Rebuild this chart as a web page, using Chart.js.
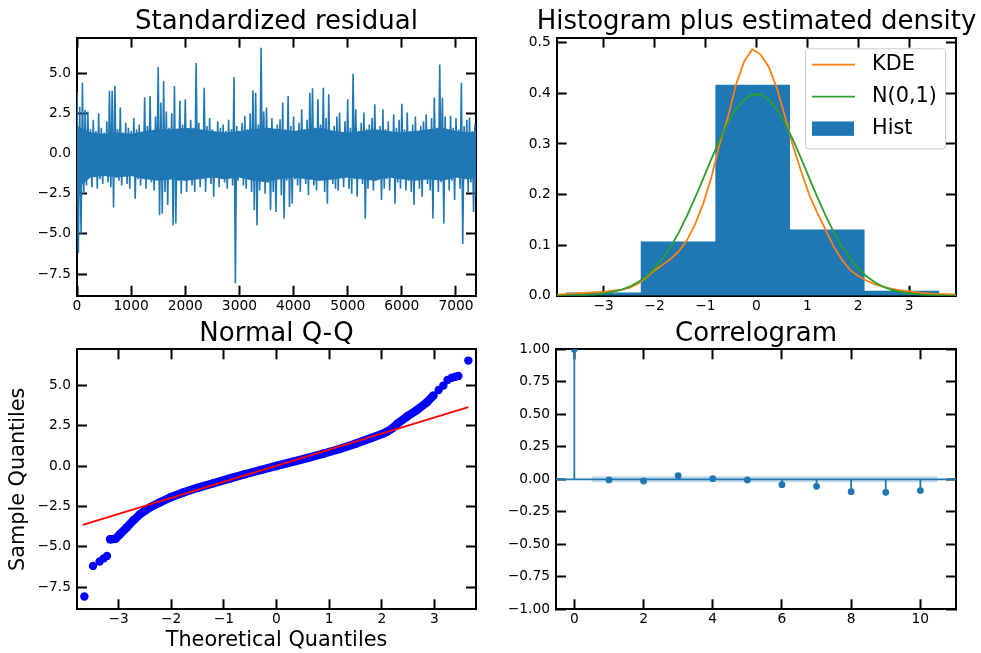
<!DOCTYPE html>
<html>
<head>
<meta charset="utf-8">
<title>Residual diagnostics</title>
<script src="https://cdn.jsdelivr.net/npm/chart.js@4"></script>
<style>
  html, body { margin: 0; padding: 0; background: #fff; overflow: hidden; }
  body { width: 981px; height: 653px; position: relative; }
  canvas { position: absolute; }
</style>
</head>
<body>
<canvas id="resid" width="553" height="320" style="left:0px;top:0px"></canvas>
<canvas id="hist" width="461" height="320" style="left:526px;top:0px"></canvas>
<canvas id="qq" width="553" height="343" style="left:0px;top:310px"></canvas>
<canvas id="acf" width="504" height="343" style="left:504px;top:310px"></canvas>

<script>
// ---- values ----

// standardized residual: max / min of each 50-sample window
const residStep = 50;
const residUpper = [
  3.8, 2.9, 4.4, 2.7, 2.6, 1.5, 2.1, 1.4, 2.5, 1.6,
  1.3, 2.0, 3.9, 3.9, 4.2, 1.5, 2.85, 1.3, 1.9, 1.6,
  1.4, 2.2, 1.5, 1.8, 1.3, 3.5, 1.7, 3.57, 1.4, 2.3,
  5.37, 3.16, 4.5, 2.6, 1.6, 2.5, 4.19, 1.5, 3.27, 1.8,
  3.37, 1.4, 2.1, 1.6, 5.63, 1.9, 1.3, 4.09, 1.7, 2.2,
  1.5, 1.3, 2.0, 1.6, 1.8, 1.4, 2.1, 1.5, 4.75, 1.7,
  1.3, 1.9, 2.34, 1.5, 2.5, 3.92, 3.78, 1.8, 6.57, 2.6,
  2.85, 1.6, 2.2, 1.4, 1.8, 2.13, 3.16, 1.5, 3.57, 1.7,
  2.3, 1.4, 1.9, 2.75, 1.5, 2.1, 3.78, 4.05, 1.6, 3.37,
  1.8, 4.09, 2.2, 3.68, 1.4, 1.7, 2.3, 2.54, 1.3, 2.0,
  3.37, 1.6, 4.96, 2.75, 1.4, 1.9, 2.54, 1.5, 1.8, 2.2,
  3.06, 1.4, 1.7, 2.75, 1.5, 2.0, 1.3, 2.44, 1.6, 2.1,
  3.09, 1.5, 2.54, 1.4, 1.8, 2.3, 1.3, 1.7, 2.0, 2.44,
  1.5, 2.2, 3.47, 1.6, 5.53, 3.47, 2.3, 1.4, 2.34, 1.6,
  2.2, 1.5, 4.40, 1.7, 2.1, 2.23, 1.4, 1.8
];
const residLower = [
  -6.2, -4.98, -2.5, -2.0, -1.5, -2.1, -1.4, -2.2, -1.6, -1.9,
  -1.3, -1.8, -2.1, -3.37, -1.5, -1.7, -2.0, -1.3, -1.9, -2.2,
  -1.4, -2.82, -1.6, -2.0, -1.3, -2.2, -1.5, -1.8, -2.3, -1.4,
  -3.85, -3.74, -2.4, -3.2, -1.6, -4.47, -4.36, -1.7, -2.5, -1.4,
  -2.4, -1.5, -2.0, -2.4, -1.3, -2.1, -1.6, -2.4, -1.5, -1.9,
  -2.7, -1.4, -2.1, -1.6, -1.8, -2.2, -1.3, -2.0, -8.08, -1.7,
  -1.5, -2.0, -2.2, -1.4, -2.4, -3.54, -4.47, -2.3, -1.6, -2.5,
  -1.8, -3.54, -2.4, -3.64, -1.5, -2.6, -4.05, -1.7, -3.33, -3.13,
  -1.6, -2.0, -2.4, -1.4, -1.9, -2.6, -1.5, -2.0, -2.3, -1.7,
  -1.4, -2.4, -3.13, -1.6, -1.9, -2.2, -2.3, -1.5, -2.1, -1.3,
  -2.2, -2.5, -1.6, -2.7, -1.4, -1.9, -4.05, -2.2, -1.5, -2.3,
  -1.7, -1.4, -2.9, -2.2, -1.6, -2.3, -1.5, -3.13, -1.8, -2.2,
  -1.4, -2.3, -1.7, -2.4, -3.2, -1.5, -2.2, -2.7, -1.6, -1.9,
  -2.3, -4.05, -1.5, -2.4, -1.8, -4.36, -1.4, -2.3, -1.7, -2.9,
  -1.5, -2.2, -5.64, -1.6, -2.4, -1.8, -3.64, -2.7
];
// solid core of the trace (where every pixel column is covered), every 250 samples
const coreStep = 250;
const coreUpper = [
  1.7, 1.3, 1.2, 1.3, 1.2, 1.4, 1.5, 1.5, 1.6, 1.5,
  1.4, 1.3, 1.4, 1.5, 1.6, 1.5, 1.4, 1.5, 1.6, 1.4,
  1.3, 1.4, 1.5, 1.4, 1.3, 1.4, 1.5, 1.6, 1.4, 1.3, 1.4
];
const coreLower = [
  -2.2, -1.5, -1.4, -1.5, -1.4, -1.6, -1.7, -1.6, -1.7, -1.6,
  -1.5, -1.6, -1.5, -1.7, -1.8, -1.6, -1.5, -1.6, -1.7, -1.6,
  -1.5, -1.6, -1.7, -1.5, -1.6, -1.7, -1.6, -1.7, -1.5, -1.6, -1.5
];

// histogram (10 bins, density)
const histEdges = [-8.13, -6.665, -5.2, -3.735, -2.27, -0.805, 0.66, 2.125, 3.59, 5.055, 6.52];
const histDensity = [0.0001, 0.0002, 0.0009, 0.0066, 0.107, 0.417, 0.131, 0.010, 0.0013, 0.0002];

// KDE and N(0,1) curves
const densityGrid = [
  -3.92, -3.76, -3.6, -3.44, -3.28, -3.12, -2.96, -2.8, -2.64, -2.48,
  -2.32, -2.16, -2.0, -1.84, -1.68, -1.52, -1.36, -1.2, -1.04, -0.88,
  -0.72, -0.56, -0.4, -0.24, -0.08, 0.08, 0.24, 0.4, 0.56, 0.72,
  0.88, 1.04, 1.2, 1.36, 1.52, 1.68, 1.84, 2.0, 2.16, 2.32,
  2.48, 2.64, 2.8, 2.96, 3.12, 3.28, 3.44, 3.6, 3.76, 3.92
];
const kdeDensity = [
  0.002, 0.003, 0.004, 0.005, 0.006, 0.007, 0.008, 0.010, 0.012, 0.016,
  0.024, 0.036, 0.050, 0.061, 0.073, 0.088, 0.110, 0.142, 0.183, 0.235,
  0.300, 0.352, 0.417, 0.463, 0.487, 0.477, 0.453, 0.411, 0.355, 0.296,
  0.246, 0.199, 0.163, 0.130, 0.097, 0.071, 0.051, 0.039, 0.030, 0.023,
  0.018, 0.014, 0.011, 0.009, 0.007, 0.005, 0.004, 0.003, 0.003, 0.002
];
const normalDensity = [
  0.0002, 0.0003, 0.0006, 0.0011, 0.0018, 0.0031, 0.0050, 0.0079, 0.0122, 0.0183,
  0.0270, 0.0386, 0.0540, 0.0734, 0.0973, 0.1257, 0.1582, 0.1942, 0.2323, 0.2709,
  0.3079, 0.3410, 0.3683, 0.3876, 0.3977, 0.3977, 0.3876, 0.3683, 0.3410, 0.3079,
  0.2709, 0.2323, 0.1942, 0.1582, 0.1257, 0.0973, 0.0734, 0.0540, 0.0386, 0.0270,
  0.0183, 0.0122, 0.0079, 0.0050, 0.0031, 0.0018, 0.0011, 0.0006, 0.0003, 0.0002
];

// normal Q-Q
const qqTheoretical = [
  -3.16, -3.06, -2.97, -2.84, -2.71, -2.59, -2.40, -2.21, -2.02, -1.77,
  -1.50, -1.20, -0.90, -0.60, -0.30, 0.00, 0.30, 0.60, 0.90, 1.20,
  1.50, 1.80, 2.00, 2.10, 2.20, 2.29, 2.48, 2.67, 2.86, 2.98
];
const qqSample = [
  -4.53, -4.50, -4.20, -3.78, -3.33, -2.96, -2.55, -2.24, -1.94, -1.63,
  -1.34, -1.05, -0.77, -0.50, -0.23, 0.02, 0.27, 0.52, 0.79, 1.07,
  1.39, 1.75, 1.99, 2.14, 2.35, 2.62, 3.08, 3.49, 3.97, 4.38
];
const qqTailTheoretical = [-3.65, -3.486, -3.36, -3.28, -3.22, 3.08, 3.17, 3.25, 3.33, 3.40, 3.455, 3.645];
const qqTailSample = [-8.08, -6.18, -5.91, -5.71, -5.56, 4.73, 5.0, 5.35, 5.49, 5.55, 5.60, 6.55];
const qqLineX = [-3.68, 3.645];
const qqLineY = [-3.64, 3.66];

// correlogram
const acfLags = [0, 1, 2, 3, 4, 5, 6, 7, 8, 9, 10];
const acfValues = [1.0, -0.005, -0.013, 0.028, 0.005, -0.005, -0.041, -0.054, -0.095, -0.100, -0.087];
const confX = [0.5, 10.5];
const confHalf = [0.023, 0.023];

// axis limits and tick positions
const residXLim = [0, 7370], residYLim = [-8.85, 7.2];
const residXTicks = [0, 1000, 2000, 3000, 4000, 5000, 6000, 7000];
const residYTicks = [-7.5, -5, -2.5, 0, 2.5, 5];
const histXLim = [-3.92, 3.92], histYLim = [0, 0.51];
const histXTicks = [-3, -2, -1, 0, 1, 2, 3];
const histYTicks = [0, 0.1, 0.2, 0.3, 0.4, 0.5];
const qqXLim = [-3.79, 3.79], qqYLim = [-8.87, 7.25];
const qqXTicks = [-3, -2, -1, 0, 1, 2, 3];
const qqYTicks = [-7.5, -5, -2.5, 0, 2.5, 5];
const acfXLim = [-0.53, 11.03], acfYLim = [-1, 1];
const acfXTicks = [0, 2, 4, 6, 8, 10];
const acfYTicks = [-1, -0.75, -0.5, -0.25, 0, 0.25, 0.5, 0.75, 1];

// ---- drawing ----
const C0 = '#1f77b4';
const INK = '#000000';
Chart.defaults.font.family = '"DejaVu Sans", sans-serif';
Chart.defaults.color = INK;

function fmt(v, d) {
  const s = Number(v).toFixed(d);
  return s.charAt(0) === '-' ? '\u2212' + s.slice(1) : s;
}

// matplotlib-like axis: inward ticks, black spine
function axis(position, lim, ticks, dec, size, labels, title) {
  const horiz = position === 'top' || position === 'bottom';
  const a = {
    type: 'linear',
    axis: horiz ? 'x' : 'y',
    position: position,
    min: lim[0],
    max: lim[1],
    z: 1,
    grid: { drawOnChartArea: false, drawTicks: true, tickLength: -10, tickWidth: 2, tickColor: INK },
    border: { display: true, color: INK, width: 2 },
    ticks: {
      display: labels,
      autoSkip: false,
      maxRotation: 0,
      color: INK,
      font: { size: 13.8 },
      padding: horiz ? 12.2 : 16,
      callback: v => fmt(v, dec)
    },
    afterBuildTicks(scale) {
      scale.ticks = ticks.map(v => ({ value: v }));
    },
    afterFit(scale) {
      if (horiz) scale.height = size; else scale.width = size;
    }
  };
  if (title) {
    a.title = { display: true, text: title.text, color: INK, font: { size: 20.8 }, padding: title.padding };
  }
  return a;
}

function baseOptions(titleText, padTop, scales) {
  return {
    responsive: false,
    animation: false,
    events: [],
    layout: { autoPadding: false, padding: { top: padTop, left: 0, right: 0, bottom: 0 } },
    plugins: {
      legend: { display: false },
      tooltip: { enabled: false },
      title: {
        display: true, text: titleText, color: INK, padding: 0,
        font: { size: 26, weight: 'normal', lineHeight: 1.15 }
      }
    },
    scales: scales
  };
}

// panel 1: standardized residual
const residPoints = [];
residUpper.forEach((u, i) => {
  residPoints.push({ x: i * residStep, y: u });
  residPoints.push({ x: i * residStep + residStep / 2, y: residLower[i] });
});

new Chart(document.getElementById('resid'), {
  type: 'line',
  data: {
    datasets: [
      {
        order: 1,
        data: residPoints, borderColor: C0, borderWidth: 1.6,
        pointRadius: 0, tension: 0, fill: false
      },
      {
        order: 2, fill: '+1',
        data: coreUpper.map((v, i) => ({ x: i * coreStep, y: v })),
        backgroundColor: C0, borderColor: 'rgba(0,0,0,0)', borderWidth: 0, pointRadius: 0, tension: 0
      },
      {
        order: 3, fill: false,
        data: coreLower.map((v, i) => ({ x: i * coreStep, y: v })),
        borderColor: 'rgba(0,0,0,0)', borderWidth: 0, pointRadius: 0, tension: 0
      }
    ]
  },
  options: baseOptions('Standardized residual', 7.75, {
    x: axis('bottom', residXLim, residXTicks, 0, 23.5, true),
    x2: axis('top', residXLim, residXTicks, 0, 0, false),
    y: axis('left', residYLim, residYTicks, 1, 77, true),
    y2: axis('right', residYLim, residYTicks, 1, 77, false)
  })
});

// panel 2: histogram plus estimated density
const histPoints = histDensity.map((d, i) => ({ x: histEdges[i], y: d }));
histPoints.push({ x: histEdges[histEdges.length - 1], y: histDensity[histDensity.length - 1] });

function roundRect(ctx, x, y, w, h, r) {
  ctx.beginPath();
  ctx.moveTo(x + r, y);
  ctx.lineTo(x + w - r, y);
  ctx.arcTo(x + w, y, x + w, y + r, r);
  ctx.lineTo(x + w, y + h - r);
  ctx.arcTo(x + w, y + h, x + w - r, y + h, r);
  ctx.lineTo(x + r, y + h);
  ctx.arcTo(x, y + h, x, y + h - r, r);
  ctx.lineTo(x, y + r);
  ctx.arcTo(x, y, x + r, y, r);
  ctx.closePath();
}

// legend drawn inside the plot, upper right, like matplotlib
const innerLegend = {
  id: 'innerLegend',
  afterDatasetsDraw(chart) {
    const ctx = chart.ctx;
    const area = chart.chartArea;
    const w = 140, h = 100;
    const x0 = area.right - 11 - w, y0 = area.top + 10.6;
    ctx.save();
    roundRect(ctx, x0 + 0.5, y0 + 0.5, w, h, 3);
    ctx.fillStyle = 'rgba(255,255,255,0.8)';
    ctx.fill();
    ctx.lineWidth = 1;
    ctx.strokeStyle = '#cccccc';
    ctx.stroke();
    ctx.font = '20.8px "DejaVu Sans"';
    ctx.textBaseline = 'middle';
    chart.data.datasets.forEach((ds, i) => {
      const cy = y0 + 16.4 + i * 32;
      if (ds.fill) {
        ctx.fillStyle = ds.backgroundColor;
        ctx.fillRect(x0 + 7, cy - 7.2, 42, 14.4);
      } else {
        ctx.strokeStyle = ds.borderColor;
        ctx.lineWidth = ds.borderWidth;
        ctx.beginPath();
        ctx.moveTo(x0 + 7, cy);
        ctx.lineTo(x0 + 50, cy);
        ctx.stroke();
      }
      ctx.fillStyle = INK;
      ctx.fillText(ds.label, x0 + 67, cy);
    });
    ctx.restore();
  }
};

new Chart(document.getElementById('hist'), {
  type: 'line',
  data: {
    datasets: [
      {
        label: 'KDE', order: 2,
        data: densityGrid.map((x, i) => ({ x: x, y: kdeDensity[i] })),
        borderColor: '#ff7f0e', borderWidth: 1.8, pointRadius: 0, tension: 0, fill: false
      },
      {
        label: 'N(0,1)', order: 1,
        data: densityGrid.map((x, i) => ({ x: x, y: normalDensity[i] })),
        borderColor: '#2ca02c', borderWidth: 1.8, pointRadius: 0, tension: 0, fill: false
      },
      {
        label: 'Hist', order: 3,
        data: histPoints, stepped: true, fill: 'origin',
        backgroundColor: C0, borderColor: 'rgba(0,0,0,0)', borderWidth: 0, pointRadius: 0
      }
    ]
  },
  options: baseOptions('Histogram plus estimated density', 7.75, {
    x: axis('bottom', histXLim, histXTicks, 0, 23.5, true),
    x2: axis('top', histXLim, histXTicks, 0, 0, false),
    y: axis('left', histYLim, histYTicks, 1, 30.7, true),
    y2: axis('right', histYLim, histYTicks, 1, 31, false)
  }),
  plugins: [innerLegend]
});

// panel 3: normal Q-Q
new Chart(document.getElementById('qq'), {
  type: 'line',
  data: {
    datasets: [
      {
        order: 1,
        data: qqLineX.map((x, i) => ({ x: x, y: qqLineY[i] })),
        borderColor: '#ff0000', borderWidth: 1.8, pointRadius: 0, fill: false
      },
      {
        order: 2,
        data: qqTheoretical.map((x, i) => ({ x: x, y: qqSample[i] })),
        borderColor: '#0000ff', borderWidth: 8.4, borderCapStyle: 'round', borderJoinStyle: 'round',
        pointRadius: 4.2, pointBorderWidth: 0, pointBackgroundColor: '#0000ff', tension: 0, fill: false
      },
      {
        order: 3, showLine: false,
        data: qqTailTheoretical.map((x, i) => ({ x: x, y: qqTailSample[i] })),
        pointRadius: 4.2, pointBorderWidth: 0, pointBackgroundColor: '#0000ff'
      }
    ]
  },
  options: baseOptions('Normal Q-Q', 9.4, {
    x: axis('bottom', qqXLim, qqXTicks, 0, 43.7, true, { text: 'Theoretical Quantiles', padding: { top: 0, bottom: 0 } }),
    x2: axis('top', qqXLim, qqXTicks, 0, 0, false),
    y: axis('left', qqYLim, qqYTicks, 1, 77, true, { text: 'Sample Quantiles', padding: { top: 6.1, bottom: 0 } }),
    y2: axis('right', qqYLim, qqYTicks, 1, 77, false)
  })
});

// panel 4: correlogram
const stemPoints = [];
acfLags.forEach((lag, i) => {
  stemPoints.push({ x: lag, y: 0 }, { x: lag, y: acfValues[i] }, { x: lag, y: null });
});

new Chart(document.getElementById('acf'), {
  type: 'line',
  data: {
    datasets: [
      {
        order: 0, fill: '+1',
        data: confX.map((x, i) => ({ x: x, y: confHalf[i] })),
        backgroundColor: 'rgba(31,119,180,0.25)', borderColor: 'rgba(0,0,0,0)', borderWidth: 0, pointRadius: 0
      },
      {
        order: 0.5, fill: false,
        data: confX.map((x, i) => ({ x: x, y: -confHalf[i] })),
        borderColor: 'rgba(0,0,0,0)', borderWidth: 0, pointRadius: 0
      },
      {
        order: 1, showLine: false, clip: 0,
        data: acfLags.map((lag, i) => ({ x: lag, y: acfValues[i] })),
        pointRadius: 3.4, pointBorderWidth: 0, pointBackgroundColor: C0
      },
      {
        order: 2, fill: false,
        data: acfXLim.map(x => ({ x: x, y: 0 })),
        borderColor: C0, borderWidth: 1.8, pointRadius: 0
      },
      {
        order: 3, fill: false, spanGaps: false,
        data: stemPoints,
        borderColor: C0, borderWidth: 1.8, pointRadius: 0
      }
    ]
  },
  options: baseOptions('Correlogram', 9.4, {
    x: axis('bottom', acfXLim, acfXTicks, 0, 43.7, true),
    x2: axis('top', acfXLim, acfXTicks, 0, 0, false),
    y: axis('left', acfYLim, acfYTicks, 2, 52, true),
    y2: axis('right', acfYLim, acfYTicks, 2, 52, false)
  })
});
</script>
</body>
</html>
